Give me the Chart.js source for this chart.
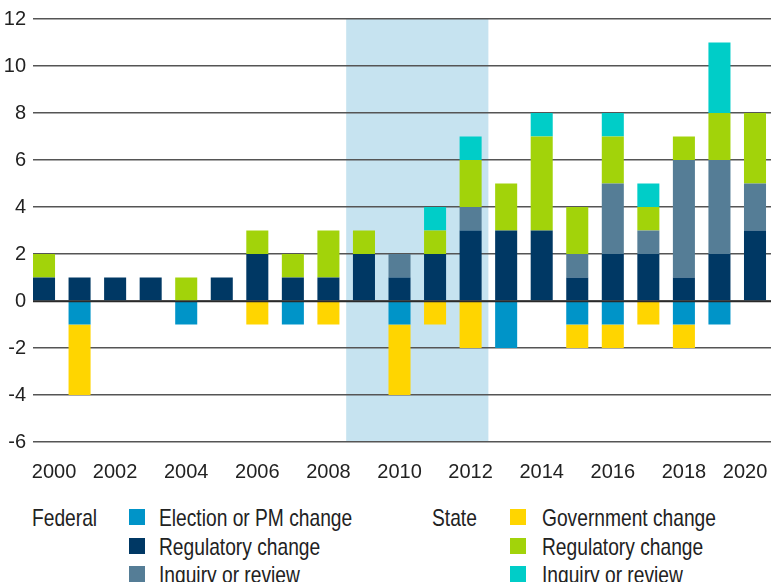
<!DOCTYPE html>
<html lang="en">
<head>
    <meta charset="UTF-8">
    <title>Federal and State changes by year</title>
    <style>
        body {
            margin: 0;
            width: 771px;
            height: 582px;
            overflow: hidden;
            background: #ffffff;
            font-family: "Liberation Sans Narrow", "Arial Narrow", "Liberation Sans", Arial, sans-serif;
            color: #222222;
        }
        #chartBox {
            position: absolute;
            left: 0;
            top: 0;
            width: 771px;
            height: 495px;
        }
        .legend-text {
            position: absolute;
            font-size: 24px;
            line-height: 29px;
            white-space: nowrap;
            transform: scaleX(0.8);
            transform-origin: left top;
        }
        .legend-box {
            position: absolute;
            width: 16px;
            height: 16px;
        }
    </style>
    <script src="https://cdn.jsdelivr.net/npm/chart.js@4/dist/chart.umd.min.js"></script>
</head>
<body>
<div id="chartBox"><canvas id="barChart"></canvas></div>
<div id="legend"></div>
<script>
    // Years and the labelled ticks
    const years = [2000, 2001, 2002, 2003, 2004, 2005, 2006, 2007, 2008, 2009, 2010,
                   2011, 2012, 2013, 2014, 2015, 2016, 2017, 2018, 2019, 2020];
    const tickYears = [2000, 2002, 2004, 2006, 2008, 2010, 2012, 2014, 2016, 2018, 2020];
    const yTicks = [-6, -4, -2, 0, 2, 4, 6, 8, 10, 12];

    // Shaded period
    const shadedYears = [2008.5, 2012.5];

    // Federal series
    const fedElection   = [0, -1, 0, 0, -1, 0, 0, -1, 0, 0, -1, 0, 0, -2, 0, -1, -1, 0, -1, -1, 0];
    const fedRegulatory = [1, 1, 1, 1, 0, 1, 2, 1, 1, 2, 1, 2, 3, 3, 3, 1, 2, 2, 1, 2, 3];
    const fedInquiry    = [0, 0, 0, 0, 0, 0, 0, 0, 0, 0, 1, 0, 1, 0, 0, 1, 3, 1, 5, 4, 2];

    // State series
    const stateGovernment = [0, -3, 0, 0, 0, 0, -1, 0, -1, 0, -3, -1, -2, 0, 0, -1, -1, -1, -1, 0, 0];
    const stateRegulatory = [1, 0, 0, 0, 1, 0, 1, 1, 2, 1, 0, 1, 2, 2, 4, 2, 2, 1, 1, 2, 3];
    const stateInquiry    = [0, 0, 0, 0, 0, 0, 0, 0, 0, 0, 0, 1, 1, 0, 1, 0, 1, 1, 0, 3, 0];

    const groups = [
        { title: 'Federal', series: [
            { label: 'Election or PM change', data: fedElection, color: '#0094c8' },
            { label: 'Regulatory change', data: fedRegulatory, color: '#003864' },
            { label: 'Inquiry or review', data: fedInquiry, color: '#557d96' }
        ]},
        { title: 'State', series: [
            { label: 'Government change', data: stateGovernment, color: '#ffd500' },
            { label: 'Regulatory change', data: stateRegulatory, color: '#a2d30a' },
            { label: 'Inquiry or review', data: stateInquiry, color: '#00cdc8' }
        ]}
    ];

    const datasets = [];
    groups.forEach(g => g.series.forEach(s => datasets.push({
        label: g.title + ' ' + s.label,
        data: s.data,
        backgroundColor: s.color,
        borderWidth: 0,
        barPercentage: 0.62,
        categoryPercentage: 1
    })));

    // Shaded band under the grid, zero line over the bars
    const bandPlugin = {
        id: 'band',
        beforeDraw(chart) {
            const { ctx, chartArea, scales } = chart;
            const x0 = scales.x.getPixelForValue(shadedYears[0]);
            const x1 = scales.x.getPixelForValue(shadedYears[1]);
            ctx.save();
            ctx.fillStyle = '#c6e3f0';
            ctx.fillRect(x0, chartArea.top, x1 - x0, chartArea.bottom - chartArea.top);
            ctx.restore();
        },
        afterDatasetsDraw(chart) {
            const { ctx, chartArea, scales } = chart;
            const y = Math.round(scales.y.getPixelForValue(0)) + 0.5;
            ctx.save();
            ctx.strokeStyle = '#2a2a2a';
            ctx.lineWidth = 1.5;
            ctx.beginPath();
            ctx.moveTo(chartArea.left, y);
            ctx.lineTo(chartArea.right, y);
            ctx.stroke();
            ctx.restore();
        }
    };

    const tickFont = { family: '"Liberation Sans Narrow", "Arial Narrow", "Liberation Sans", sans-serif', size: 20 };

    // keep the outer year labels inside the picture
    function yearLabel(v, i, ticks) {
        if (i === 0) return '\u2002\u2002' + v;
        if (i === ticks.length - 1) return v + '\u2002\u2002';
        return String(v);
    }

    new Chart(document.getElementById('barChart'), {
        type: 'bar',
        data: { labels: years, datasets: datasets },
        options: {
            responsive: true,
            maintainAspectRatio: false,
            animation: false,
            events: [],
            layout: { padding: { top: 19, right: 0, bottom: 0, left: 0 } },
            plugins: { legend: { display: false }, tooltip: { enabled: false } },
            scales: {
                x: {
                    type: 'linear',
                    offset: false,
                    stacked: true,
                    min: 1999.69,
                    max: 2020.45,
                    grid: { display: false },
                    border: { display: false },
                    afterBuildTicks: scale => { scale.ticks = tickYears.map(v => ({ value: v })); },
                    afterFit: scale => {
                        scale.height = 53;
                        scale.paddingLeft = 0;
                        scale.paddingRight = 0;
                    },
                    ticks: {
                        font: tickFont,
                        color: '#222222',
                        padding: 10,
                        maxRotation: 0,
                        autoSkip: false,
                        callback: yearLabel
                    }
                },
                y: {
                    stacked: true,
                    min: -6,
                    max: 12,
                    afterBuildTicks: scale => { scale.ticks = yTicks.map(v => ({ value: v })); },
                    afterFit: scale => {
                        scale.width = 33;
                        scale.paddingTop = 0;
                        scale.paddingBottom = 0;
                    },
                    grid: { color: '#555555', lineWidth: 1.5, drawTicks: false },
                    border: { display: false },
                    ticks: { font: tickFont, color: '#222222', padding: 7 }
                }
            }
        },
        plugins: [bandPlugin]
    });

    // Legend in two columns, built from the series above
    const legend = document.getElementById('legend');
    const cols = [{ title: 32, box: 129, text: 159 }, { title: 432, box: 510, text: 542 }];
    const rowTop = 503, rowStep = 28.7;
    function addEl(cls, left, top, text, color) {
        const el = document.createElement('div');
        el.className = cls;
        el.style.left = left + 'px';
        el.style.top = top + 'px';
        if (text) el.textContent = text;
        if (color) el.style.background = color;
        legend.appendChild(el);
    }
    groups.forEach((g, gi) => {
        addEl('legend-text', cols[gi].title, rowTop, g.title);
        g.series.forEach((s, si) => {
            const top = rowTop + si * rowStep;
            addEl('legend-box', cols[gi].box, top + 6, null, s.color);
            addEl('legend-text', cols[gi].text, top, s.label);
        });
    });
</script>
</body>
</html>
